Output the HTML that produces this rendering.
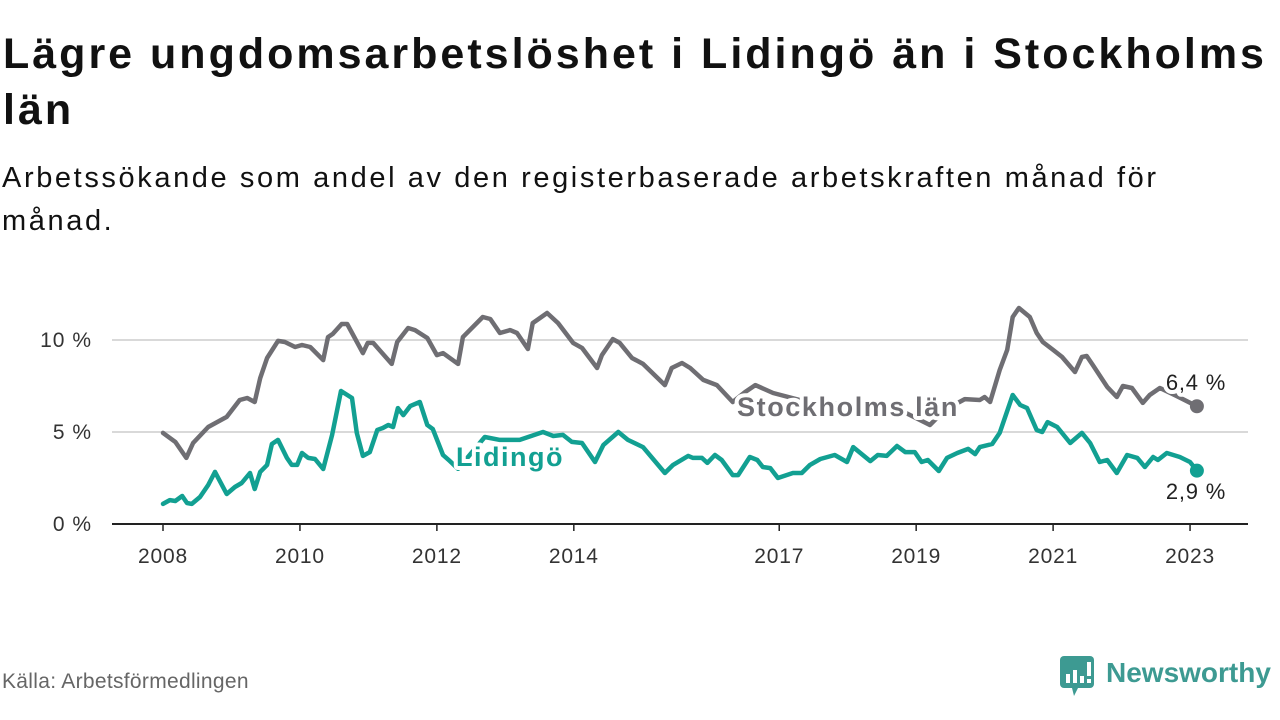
<!DOCTYPE html>
<html><head><meta charset="utf-8">
<style>
body{margin:0;width:1280px;height:720px;background:#fff;overflow:hidden;font-family:"Liberation Sans",sans-serif;}
.t{position:absolute;left:3px;top:26px;font-size:43px;font-weight:bold;color:#111;line-height:56px;width:1290px;letter-spacing:3px;white-space:nowrap;}
.s{position:absolute;left:2px;top:157px;font-size:29px;color:#111;line-height:43px;width:1280px;letter-spacing:2.6px;white-space:nowrap;}
.src{position:absolute;left:2px;top:670px;font-size:21px;color:#666;letter-spacing:0.3px;}
</style></head><body>
<div class="t">Lägre ungdomsarbetslöshet i Lidingö än i Stockholms<br>län</div>
<div class="s">Arbetssökande som andel av den registerbaserade arbetskraften månad för<br>månad.</div>
<div class="src">Källa: Arbetsförmedlingen</div>
<svg width="1280" height="720" style="position:absolute;left:0;top:0">
<g id="grid"></g><g id="lines"></g><g id="labels"></g>
<g>
<rect x="1060" y="656" width="34" height="32" rx="4" fill="#3d9a92"/>
<polygon points="1072,688 1078,688 1074,696" fill="#3d9a92"/>
<rect x="1066" y="674" width="4" height="9" fill="#fff"/><rect x="1073" y="670" width="4" height="13" fill="#fff"/><rect x="1080" y="676" width="4" height="7" fill="#fff"/><rect x="1087" y="662" width="4" height="14" fill="#fff"/><rect x="1087" y="679" width="4" height="4" fill="#fff"/>
<text x="1106" y="682" font-size="28" font-weight="bold" fill="#3d9a92" font-family="Liberation Sans, sans-serif">Newsworthy</text>
</g>
</svg>
<script>
const yTicks=[0,5,10];
const yTickLabels=["0 %","5 %","10 %"];
const xTicks=[2008,2010,2012,2014,2017,2019,2021,2023];
const stoT=[2008.00,2008.18,2008.34,2008.44,2008.66,2008.93,2009.12,2009.23,2009.34,2009.42,2009.52,2009.68,2009.78,2009.93,2010.03,2010.15,2010.34,2010.41,2010.48,2010.61,2010.69,2010.92,2010.99,2011.07,2011.34,2011.42,2011.58,2011.68,2011.86,2012.00,2012.09,2012.31,2012.38,2012.67,2012.78,2012.92,2013.07,2013.17,2013.33,2013.40,2013.61,2013.77,2013.99,2014.12,2014.34,2014.41,2014.57,2014.67,2014.85,2015.01,2015.33,2015.43,2015.58,2015.70,2015.89,2016.09,2016.32,2016.50,2016.65,2016.91,2017.30,2018.03,2018.76,2019.20,2019.42,2019.71,2019.93,2020.00,2020.08,2020.22,2020.33,2020.41,2020.50,2020.66,2020.76,2020.85,2021.00,2021.13,2021.32,2021.42,2021.49,2021.58,2021.79,2021.93,2022.02,2022.15,2022.31,2022.41,2022.56,2022.78,2023.10];
const stoV=[4.95,4.46,3.59,4.40,5.27,5.82,6.74,6.85,6.63,7.93,9.02,9.95,9.89,9.62,9.73,9.62,8.91,10.16,10.33,10.87,10.87,9.29,9.84,9.84,8.70,9.89,10.65,10.54,10.11,9.18,9.29,8.70,10.16,11.25,11.14,10.38,10.54,10.38,9.51,10.92,11.47,10.92,9.84,9.57,8.48,9.18,10.05,9.84,9.02,8.70,7.55,8.48,8.75,8.48,7.83,7.55,6.63,7.17,7.55,7.12,6.74,6.47,6.20,5.38,6.2,6.79,6.74,6.90,6.63,8.37,9.46,11.25,11.74,11.25,10.38,9.89,9.46,9.08,8.26,9.08,9.13,8.64,7.45,6.90,7.50,7.39,6.58,7.01,7.39,7.0,6.4];
const lidT=[2008.00,2008.10,2008.18,2008.28,2008.35,2008.42,2008.54,2008.66,2008.76,2008.93,2009.05,2009.15,2009.27,2009.34,2009.42,2009.52,2009.59,2009.68,2009.81,2009.88,2009.96,2010.03,2010.12,2010.22,2010.34,2010.47,2010.60,2010.76,2010.83,2010.92,2011.02,2011.13,2011.21,2011.29,2011.36,2011.43,2011.51,2011.61,2011.75,2011.86,2011.94,2012.09,2012.19,2012.31,2012.48,2012.70,2012.92,2013.21,2013.55,2013.70,2013.84,2013.97,2014.12,2014.31,2014.43,2014.65,2014.79,2015.01,2015.33,2015.45,2015.67,2015.74,2015.87,2015.95,2016.06,2016.16,2016.32,2016.40,2016.57,2016.68,2016.76,2016.87,2016.98,2017.20,2017.33,2017.45,2017.60,2017.81,2017.99,2018.08,2018.33,2018.44,2018.57,2018.72,2018.84,2018.98,2019.08,2019.17,2019.33,2019.45,2019.60,2019.76,2019.86,2019.93,2020.11,2020.22,2020.41,2020.52,2020.62,2020.76,2020.84,2020.92,2021.06,2021.25,2021.42,2021.54,2021.68,2021.79,2021.93,2022.08,2022.23,2022.34,2022.46,2022.53,2022.66,2022.85,2023.00,2023.10];
const lidV=[1.09,1.30,1.25,1.52,1.14,1.09,1.47,2.12,2.83,1.63,2.01,2.23,2.77,1.90,2.83,3.21,4.35,4.57,3.59,3.21,3.21,3.86,3.59,3.53,2.99,4.84,7.23,6.85,4.95,3.70,3.91,5.11,5.22,5.38,5.27,6.30,5.92,6.41,6.63,5.38,5.16,3.75,3.42,3.0,3.75,4.73,4.57,4.57,5.0,4.78,4.84,4.46,4.40,3.37,4.29,5.00,4.57,4.18,2.77,3.21,3.70,3.59,3.59,3.32,3.75,3.48,2.66,2.66,3.64,3.48,3.10,3.04,2.50,2.77,2.77,3.21,3.53,3.75,3.37,4.18,3.42,3.75,3.70,4.24,3.91,3.91,3.37,3.48,2.88,3.59,3.86,4.08,3.80,4.18,4.35,4.95,7.01,6.47,6.30,5.11,5.00,5.54,5.27,4.40,4.95,4.40,3.37,3.48,2.77,3.75,3.59,3.10,3.64,3.48,3.86,3.64,3.37,2.9];
const NS="http://www.w3.org/2000/svg";
const X=t=>163+(t-2008)*68.47;
const Y=v=>524-v*18.4;
function mk(tag,attrs,parent,txt){const e=document.createElementNS(NS,tag);for(const k in attrs)e.setAttribute(k,attrs[k]);if(txt!=null)e.textContent=txt;parent.appendChild(e);return e;}
const grid=document.getElementById('grid'),lines=document.getElementById('lines'),labels=document.getElementById('labels');
yTicks.forEach((v,i)=>{
 if(v>0){const g=mk('line',{x1:112,x2:1248,y1:Y(v),y2:Y(v),stroke:'#d9d9d9','stroke-width':2},grid);
 
 }
 const t=mk('text',{x:92,y:Y(v)+7,'text-anchor':'end','font-size':21,fill:'#333','letter-spacing':1},grid,yTickLabels[i]);
 
 
});
const ax=mk('line',{x1:112,x2:1248,y1:524,y2:524,stroke:'#222','stroke-width':2},grid);


xTicks.forEach(y=>{
 const tk=mk('line',{x1:X(y),x2:X(y),y1:524,y2:531,stroke:'#222','stroke-width':1.5},grid);
 
 
 const t=mk('text',{x:X(y),y:563,'text-anchor':'middle','font-size':21,fill:'#333','letter-spacing':0.8},grid,String(y));
 
 
});
function series(T,V,color,name){
 const d=T.map((t,i)=>(i?'L':'M')+X(t).toFixed(1)+','+Y(V[i]).toFixed(1)).join('');
 const p=mk('path',{d:d,fill:'none',stroke:color,'stroke-width':4.5,'stroke-linejoin':'round','stroke-linecap':'round'},lines);
 
 
 const n=T.length-1;
 const c=mk('circle',{cx:X(T[n]),cy:Y(V[n]),r:7,fill:color},lines);
 
 
}
series(stoT,stoV,'#6f6e73','stockholm');
series(lidT,lidV,'#12a092','lidingo');
function lab(x,y,txt,color,name,anchor,weight,size,ls){
 const h=mk('text',{x:x,y:y,'font-size':size,'font-weight':weight,fill:'none',stroke:'#fff','stroke-width':8,'stroke-linejoin':'round','text-anchor':anchor,'letter-spacing':ls},labels,txt);
 
 
 const t=mk('text',{x:x,y:y,'font-size':size,'font-weight':weight,fill:color,'text-anchor':anchor,'letter-spacing':ls},labels,txt);
 
 
}
lab(737,416,'Stockholms län','#6f6e73','stockholm-label','start','bold',27,1.6);
lab(456,466,'Lidingö','#12a092','lidingo-label','start','bold',27,1.5);
lab(1196,390,'6,4 %','#222','stockholm-end-value','middle','normal',22,0.8);
lab(1196,499,'2,9 %','#222','lidingo-end-value','middle','normal',22,0.8);
</script>
</body></html>
